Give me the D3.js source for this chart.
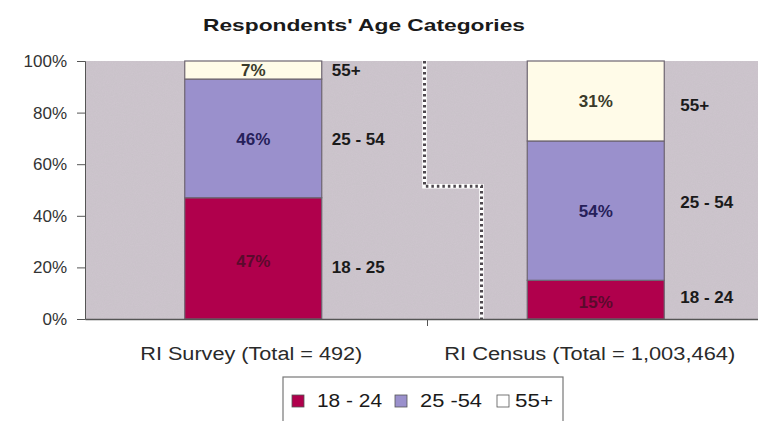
<!DOCTYPE html>
<html>
<head>
<meta charset="utf-8">
<script src="https://cdn.jsdelivr.net/npm/d3@7"></script>
<style>
  html, body { margin: 0; padding: 0; background: #ffffff; }
  svg { display: block; }
  text { font-family: "Liberation Sans", Arial, sans-serif; }
</style>
</head>
<body>
<svg id="chart" width="758" height="421"></svg>
<script>
// Age-group shares (percent) for each population
const categories = ["RI Survey (Total = 492)", "RI Census (Total = 1,003,464)"];
const seriesNames = ["18 - 24", "25 -54", "55+"];
const share1824 = [47, 15];
const share2554 = [46, 54];
const share55p = [7, 31];
// Labels written beside each segment (the survey row reads "18 - 25")
const sideLabelsSurvey = ["18 - 25", "25 - 54", "55+"];
const sideLabelsCensus = ["18 - 24", "25 - 54", "55+"];
const yTicks = [0, 20, 40, 60, 80, 100];

const colors = ["#b0004c", "#9a90cc", "#fffbe8"];

const svg = d3.select("#chart");
const W = 758, H = 421;
const m = { left: 85, top: 61, bottom: 319 };
const plotRight = 770; // plot continues past the right edge

const rows = categories.map((c, i) => ({
  cat: c,
  "18 - 24": share1824[i],
  "25 -54": share2554[i],
  "55+": share55p[i]
}));
const stacked = d3.stack().keys(seriesNames)(rows);

const x = d3.scaleBand().domain(categories).range([m.left, plotRight]).paddingInner(0).paddingOuter(0);
const y = d3.scaleLinear().domain([0, 100]).range([m.bottom, m.top]);
const barW = x.bandwidth() * 0.4;
const barX = c => x(c) + (x.bandwidth() - barW) / 2 - 3;

// soft texture for the plot background
const defs = svg.append("defs");
const flt = defs.append("filter").attr("id", "grain").attr("x", 0).attr("y", 0).attr("width", 1).attr("height", 1);
flt.append("feTurbulence").attr("type", "fractalNoise").attr("baseFrequency", 0.9).attr("numOctaves", 2).attr("seed", 3).attr("result", "n");
flt.append("feColorMatrix").attr("in", "n").attr("type", "matrix")
  .attr("values", "0 0 0 0 0.78  0 0 0 0 0.75  0 0 0 0 0.78  0 0 0 0.18 0").attr("result", "c");
flt.append("feComposite").attr("in", "c").attr("in2", "SourceGraphic").attr("operator", "in");

svg.append("rect")
  .attr("x", m.left).attr("y", m.top)
  .attr("width", W - m.left).attr("height", m.bottom - m.top)
  .attr("fill", "#c9c1c9");
svg.append("rect")
  .attr("x", m.left).attr("y", m.top)
  .attr("width", W - m.left).attr("height", m.bottom - m.top)
  .attr("fill", "#c9c1c9").attr("filter", "url(#grain)").attr("opacity", 0.9);

// stacked bars
const layer = svg.append("g").selectAll("g")
  .data(stacked).join("g")
  .attr("fill", (d, i) => colors[i]);
layer.selectAll("rect")
  .data(d => d.map(v => ({ v, cat: v.data.cat })))
  .join("rect")
  .attr("x", d => barX(d.cat))
  .attr("y", d => y(d.v[1]))
  .attr("width", barW)
  .attr("height", d => y(d.v[0]) - y(d.v[1]))
  .attr("stroke", "#6d6470")
  .attr("stroke-width", 1.2);

// value labels inside segments
const valueColors = ["#5a0a2c", "#26205a", "#3a3a2a"];
stacked.forEach((s, si) => {
  s.forEach((v) => {
    const cat = v.data.cat;
    const val = v[1] - v[0];
    svg.append("text")
      .attr("x", barX(cat) + barW / 2)
      .attr("y", y((v[0] + v[1]) / 2))
      .attr("dy", si === 0 ? "0.5em" : "0.36em")
      .attr("text-anchor", "middle")
      .attr("font-size", 17)
      .attr("font-weight", "bold")
      .attr("fill", valueColors[si])
      .text(val + "%");
  });
});

// side labels to the right of each bar
const sideGap = [10, 16];
const sideShift = [[9, 0, 0], [-3, -9, 4]];
[sideLabelsSurvey, sideLabelsCensus].forEach((labels, ci) => {
  const cat = categories[ci];
  stacked.forEach((s, si) => {
    const v = s[ci];
    svg.append("text")
      .attr("x", barX(cat) + barW + sideGap[ci])
      .attr("y", y((v[0] + v[1]) / 2) + sideShift[ci][si])
      .attr("dy", "0.36em")
      .attr("font-size", 17)
      .attr("font-weight", "bold")
      .attr("fill", "#1a1a1a")
      .text(labels[si]);
  });
});

// axis break marker between the two groups
const bx1 = x(categories[1]) - 3, bx2 = bx1 + 57, bMid = y(51.5);
const breakPath = d3.path();
breakPath.moveTo(bx1, m.top);
breakPath.lineTo(bx1, bMid);
breakPath.lineTo(bx2, bMid);
breakPath.lineTo(bx2, m.bottom);
svg.append("path").attr("d", breakPath.toString())
  .attr("fill", "none").attr("stroke", "#ffffff").attr("stroke-width", 4.5);
svg.append("path").attr("d", breakPath.toString())
  .attr("fill", "none").attr("stroke", "#4d474d").attr("stroke-width", 3)
  .attr("stroke-dasharray", "2.5,3");

// y axis
const yAxis = d3.axisLeft(y).tickValues(yTicks).tickFormat(d => d + "%").tickSize(8).tickPadding(10);
const gy = svg.append("g").attr("transform", `translate(${m.left},0)`).call(yAxis);
gy.select(".domain").attr("stroke", "#555");
gy.selectAll(".tick line").attr("stroke", "#555");
gy.selectAll(".tick text").attr("font-size", 17).attr("fill", "#333")
  .attr("font-family", "'Liberation Sans', Arial, sans-serif");

// x axis
const xAxis = d3.axisBottom(x).tickSize(0).tickFormat("");
const gx = svg.append("g").attr("transform", `translate(0,${m.bottom})`).call(xAxis);
gx.select(".domain").attr("stroke", "#555").attr("stroke-width", 1.5);
// category separator tick
svg.append("line")
  .attr("x1", x(categories[1])).attr("x2", x(categories[1]))
  .attr("y1", m.bottom).attr("y2", m.bottom + 7)
  .attr("stroke", "#555");

// category labels
const catLabelWidths = [222, 291];
const catLabelShift = [-5, -9];
categories.forEach((c, i) => {
  svg.append("text")
    .attr("x", x(c) + x.bandwidth() / 2 + catLabelShift[i])
    .attr("y", 360)
    .attr("text-anchor", "middle")
    .attr("font-size", 18)
    .attr("fill", "#2a2a2a")
    .attr("textLength", catLabelWidths[i])
    .attr("lengthAdjust", "spacingAndGlyphs")
    .text(c);
});

// title
svg.append("text")
  .attr("x", 364).attr("y", 31)
  .attr("text-anchor", "middle")
  .attr("font-size", 17)
  .attr("font-weight", "bold")
  .attr("fill", "#1a1a1a")
  .attr("textLength", 322)
  .attr("lengthAdjust", "spacingAndGlyphs")
  .text("Respondents' Age Categories");

// legend
const lg = svg.append("g").attr("transform", "translate(283,377)");
lg.append("rect").attr("width", 280).attr("height", 48)
  .attr("fill", "#ffffff").attr("stroke", "#777").attr("stroke-width", 1.2);
const legendX = [9, 112, 214];
const legendTextW = [65, 62, 38];
seriesNames.forEach((n, i) => {
  lg.append("rect")
    .attr("x", legendX[i]).attr("y", 18)
    .attr("width", 12).attr("height", 12)
    .attr("fill", colors[i] === "#fffbe8" ? "#ffffff" : colors[i])
    .attr("stroke", "#555").attr("stroke-width", 0.8);
  lg.append("text")
    .attr("x", legendX[i] + (i === 2 ? 18 : 25)).attr("y", 24)
    .attr("dy", "0.36em")
    .attr("font-size", 18)
    .attr("fill", "#1a1a1a")
    .attr("textLength", legendTextW[i])
    .attr("lengthAdjust", "spacingAndGlyphs")
    .text(n);
});
</script>
</body>
</html>
